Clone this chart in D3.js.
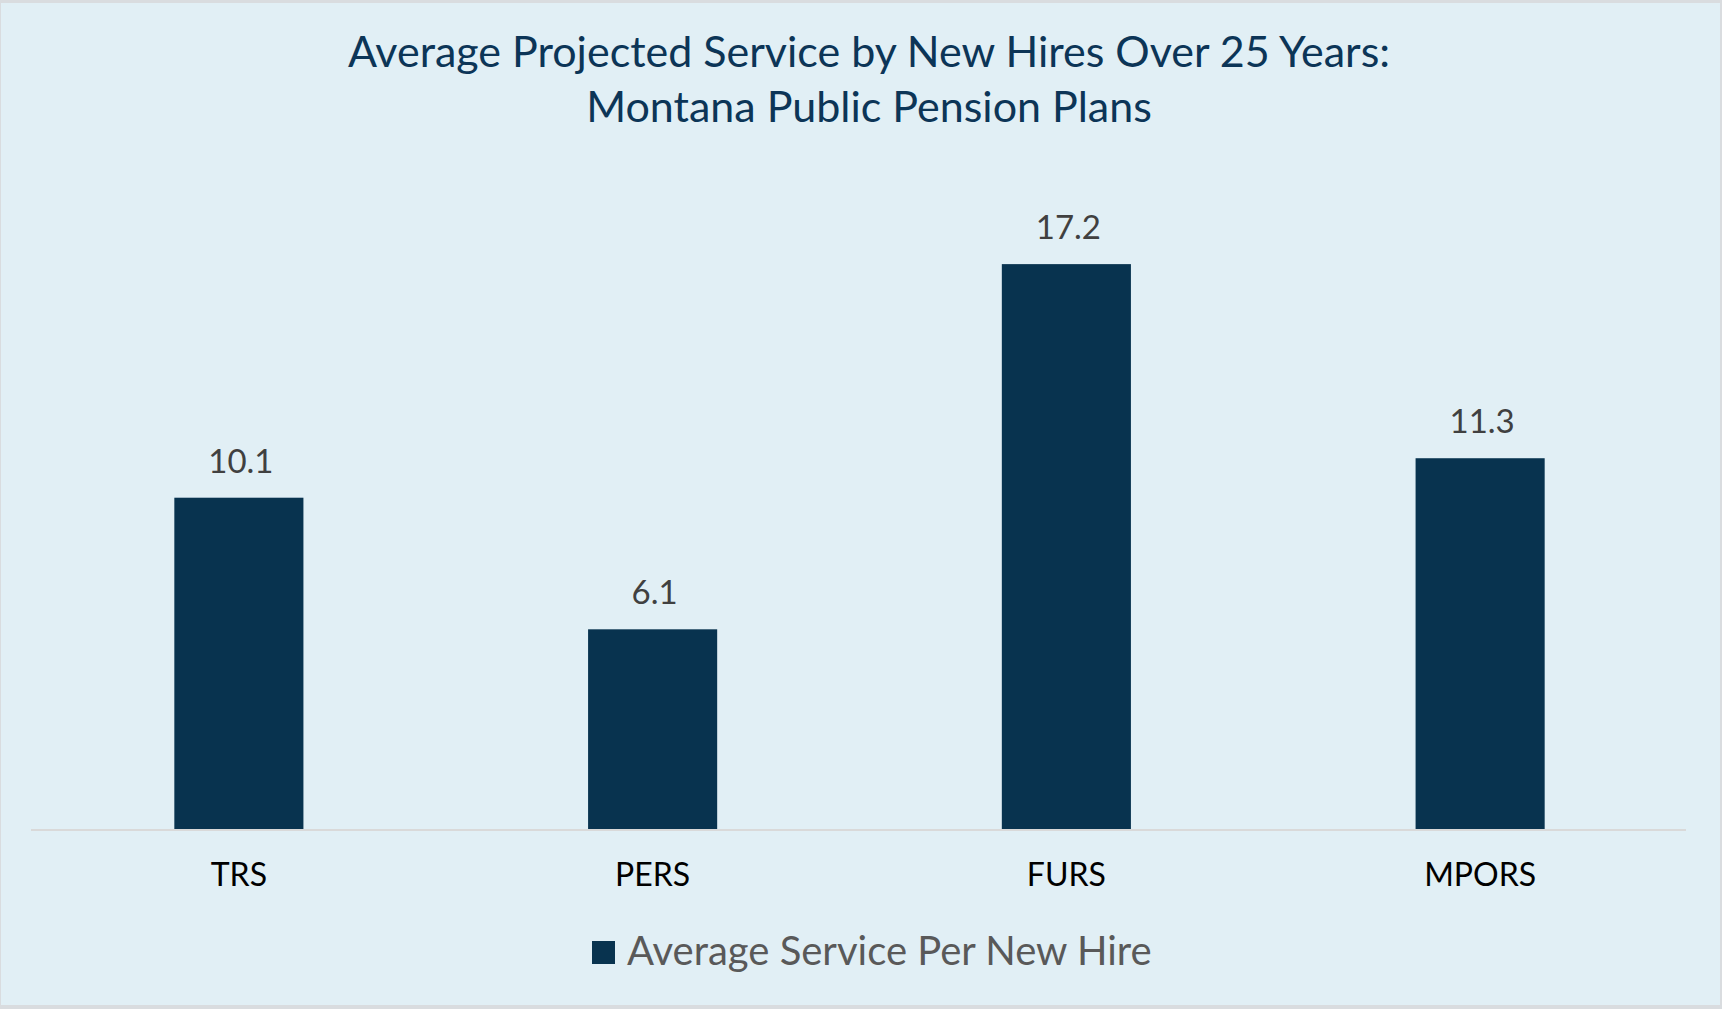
<!DOCTYPE html>
<html>
<head>
<meta charset="utf-8">
<script src="https://cdn.jsdelivr.net/npm/d3@7/dist/d3.min.js"></script>
<style>
  html, body { margin: 0; padding: 0; background: #ffffff; }
  svg { display: block; }
  text { font-family: Lato, "Open Sans", sans-serif; }
</style>
</head>
<body>
<svg id="chart" width="1722" height="1009"></svg>
<script>
const categories = ["TRS", "PERS", "FURS", "MPORS"];
const values = [10.1, 6.1, 17.2, 11.3];
const valueLabels = ["10.1", "6.1", "17.2", "11.3"];
const seriesName = "Average Service Per New Hire";
const titleLines = ["Average Projected Service by New Hires Over 25 Years:", "Montana Public Pension Plans"];

const W = 1722, H = 1009;
const svg = d3.select("#chart");

// background and frame
svg.append("rect").attr("x", 0).attr("y", 0).attr("width", W).attr("height", H).attr("fill", "#d9dcdf");
svg.append("rect").attr("x", 1).attr("y", 3).attr("width", W - 3).attr("height", H - 7).attr("fill", "#e1eff5");

const plot = { left: 32, right: 1687, baseline: 830 };

const x = d3.scaleBand()
  .domain(categories)
  .range([plot.left, plot.right])
  .paddingInner(0.688)
  .paddingOuter(0.344);

const y = d3.scaleLinear()
  .domain([0, 20])
  .range([plot.baseline, plot.baseline - 658]);

// bars
svg.append("g").selectAll("rect")
  .data(categories)
  .join("rect")
  .attr("x", d => x(d))
  .attr("width", x.bandwidth())
  .attr("y", (d, i) => y(values[i]))
  .attr("height", (d, i) => y(0) - y(values[i]))
  .attr("fill", "#08334f");

// axis line
svg.append("line")
  .attr("x1", plot.left - 1).attr("x2", plot.right - 1)
  .attr("y1", plot.baseline).attr("y2", plot.baseline)
  .attr("stroke", "#d9d9d9").attr("stroke-width", 2);

// data labels
svg.append("g").selectAll("text")
  .data(categories)
  .join("text")
  .attr("x", d => x(d) + x.bandwidth() / 2 + 2)
  .attr("y", (d, i) => y(values[i]) - 25)
  .attr("text-anchor", "middle")
  .attr("font-size", 33)
  .attr("fill", "#404040")
  .text((d, i) => valueLabels[i]);

// category axis labels
const xAxis = d3.axisBottom(x).tickSize(0).tickPadding(0);
const gx = svg.append("g").attr("transform", `translate(0,${plot.baseline})`).call(xAxis);
gx.select(".domain").remove();
gx.selectAll("text")
  .attr("y", 56)
  .attr("dy", 0)
  .attr("font-size", 32)
  .attr("font-family", "Lato, sans-serif")
  .attr("fill", "#000000");

// title
svg.append("g").selectAll("text")
  .data(titleLines)
  .join("text")
  .attr("x", 869)
  .attr("y", (d, i) => 67 + i * 55)
  .attr("text-anchor", "middle")
  .attr("font-size", 43)
  .attr("fill", "#0c3557")
  .text(d => d);

// legend
const lg = svg.append("g");
lg.append("rect").attr("x", 592).attr("y", 941).attr("width", 23).attr("height", 23).attr("fill", "#08334f");
lg.append("text").attr("x", 627).attr("y", 965)
  .attr("font-size", 40)
  .attr("fill", "#595959")
  .text(seriesName);
</script>
</body>
</html>
